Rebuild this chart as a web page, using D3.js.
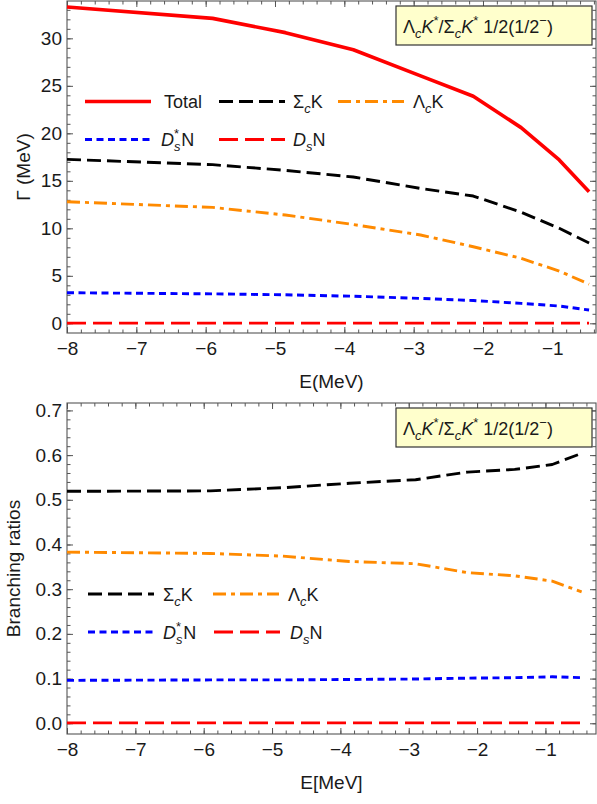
<!DOCTYPE html>
<html><head><meta charset="utf-8">
<script src="https://cdn.jsdelivr.net/npm/d3@7"></script>
<style>
body{margin:0;background:#fff}
text{font-family:"Liberation Sans",Arial,sans-serif;fill:#1a1a1a}
</style>
</head><body>
<svg id="chart" width="597" height="804"></svg>
<script>
// ---------- data ----------
const energies   = [-8.0, -5.9, -4.85, -3.87, -2.9, -2.14, -1.45, -0.9, -0.47];
// widths (MeV)
const widthTotal  = [33.3, 32.1, 30.6, 28.8, 26.05, 23.9, 20.6, 17.2, 13.85];
const widthSigmaK = [17.26, 16.7, 16.1, 15.4, 14.2, 13.4, 11.7, 10.0, 8.45];
const widthLambdaK= [12.8, 12.2, 11.4, 10.4, 9.3, 8.06, 6.84, 5.5, 4.12];
const widthDstarN = [3.22, 3.1, 3.0, 2.85, 2.62, 2.4, 2.1, 1.82, 1.4];
const widthDsN    = [0.02, 0.02, 0.02, 0.02, 0.02, 0.02, 0.02, 0.02, 0.02];
// branching ratios
const brSigmaK  = [0.519, 0.520, 0.527, 0.537, 0.545, 0.562, 0.568, 0.579, 0.604];
const brLambdaK = [0.383, 0.380, 0.374, 0.362, 0.357, 0.337, 0.330, 0.318, 0.294];
const brDstarN  = [0.096, 0.097, 0.097, 0.098, 0.099, 0.101, 0.102, 0.104, 0.102];
const brDsN     = [0.001, 0.001, 0.001, 0.001, 0.001, 0.001, 0.001, 0.001, 0.001];

const xTicks     = [-8, -7, -6, -5, -4, -3, -2, -1];
const yTicksTop  = [0, 5, 10, 15, 20, 25, 30];
const yTicksBot  = [0.0, 0.1, 0.2, 0.3, 0.4, 0.5, 0.6, 0.7];

// ---------- styles ----------
const styles = {
  total:  {color:"#ff0000", w:3.6, dash:null},
  sigma:  {color:"#000000", w:2.9, dash:"14,6"},
  lambda: {color:"#ff8a00", w:2.9, dash:"13,5,4,5"},
  dstar:  {color:"#0000ff", w:2.9, dash:"7,4.5"},
  ds:     {color:"#ff0000", w:2.9, dash:"19,7"}
};

const svg = d3.select("#chart");
const FS = 18, TFS = 19;

function richText(g, x, y, parts, size) {
  const t = g.append("text").attr("x", x).attr("y", y).style("font-size", size + "px");
  let cur = 0;
  parts.forEach(p => {
    const want = p.s === "sub" ? 5 : p.s === "sup" ? -8 : 0;
    const sp = t.append("tspan").text(p.t).attr("dy", want - cur);
    if (p.dx) sp.attr("dx", p.dx);
    if (p.i) sp.style("font-style", "italic");
    if (p.s) sp.style("font-size", (size * 0.72) + "px");
    cur = want;
  });
  return t;
}

const labelParts = {
  total:  [{t:"Total"}],
  sigma:  [{t:"Σ"},{t:"c",i:1,s:"sub"},{t:"K"}],
  lambda: [{t:"Λ"},{t:"c",i:1,s:"sub"},{t:"K"}],
  dstar:  [{t:"D",i:1},{t:"s",i:1,s:"sub"},{t:"*",s:"sup",dx:-6.4},{t:"N",dx:2.0}],
  ds:     [{t:"D",i:1},{t:"s",i:1,s:"sub"},{t:"N"}]
};
const tagParts = [
  {t:"Λ"},{t:"c",i:1,s:"sub"},{t:"K",i:1},{t:"*",s:"sup"},{t:"/"},
  {t:"Σ"},{t:"c",i:1,s:"sub"},{t:"K",i:1},{t:"*",s:"sup"},{t:" 1/2(1/2"},{t:"−",s:"sup"},{t:")"}
];

function panel(cfg) {
  const g = svg.append("g");
  const x = d3.scaleLinear().domain(cfg.xDomain).range([cfg.x0, cfg.x1]);
  const y = d3.scaleLinear().domain(cfg.yDomain).range([cfg.y1, cfg.y0]);

  const xMinor = d3.range(-8, 0.001, 0.2).filter(v => v >= cfg.xDomain[0] - 1e-9 && v <= cfg.xDomain[1]);
  const yMinor = d3.range(cfg.yMinorStart, cfg.yDomain[1], cfg.yMinorStep).filter(v => v >= cfg.yDomain[0] && v <= cfg.yDomain[1]);

  const maj = 6, mn = 3.5;
  g.append("g").attr("transform", `translate(0,${cfg.y1})`)
    .call(d3.axisBottom(x).tickValues(xMinor).tickSize(-mn).tickFormat(""));
  g.append("g").attr("transform", `translate(0,${cfg.y1})`)
    .call(d3.axisBottom(x).tickValues(xTicks).tickSize(-maj).tickPadding(9).tickFormat(d3.format("d")))
    .selectAll("text").style("font-size", TFS + "px");
  g.append("g").attr("transform", `translate(0,${cfg.y0})`)
    .call(d3.axisTop(x).tickValues(xMinor).tickSize(-mn).tickFormat(""));
  g.append("g").attr("transform", `translate(0,${cfg.y0})`)
    .call(d3.axisTop(x).tickValues(xTicks).tickSize(-maj).tickFormat(""));
  g.append("g").attr("transform", `translate(${cfg.x0},0)`)
    .call(d3.axisLeft(y).tickValues(yMinor).tickSize(-mn).tickFormat(""));
  g.append("g").attr("transform", `translate(${cfg.x0},0)`)
    .call(d3.axisLeft(y).tickValues(cfg.yTicks).tickSize(-maj).tickPadding(5).tickFormat(cfg.yFormat))
    .selectAll("text").style("font-size", TFS + "px");
  g.append("g").attr("transform", `translate(${cfg.x1},0)`)
    .call(d3.axisRight(y).tickValues(yMinor).tickSize(-mn).tickFormat(""));
  g.append("g").attr("transform", `translate(${cfg.x1},0)`)
    .call(d3.axisRight(y).tickValues(cfg.yTicks).tickSize(-maj).tickFormat(""));

  g.selectAll(".domain").remove();
  g.selectAll(".tick line").attr("stroke", "#555").attr("stroke-width", 1);
  g.selectAll(".tick text").style("fill", "#1a1a1a").style("font-family", '"Liberation Sans",Arial,sans-serif');

  g.append("rect").attr("x", cfg.x0).attr("y", cfg.y0)
    .attr("width", cfg.x1 - cfg.x0).attr("height", cfg.y1 - cfg.y0)
    .attr("fill", "none").attr("stroke", "#555").attr("stroke-width", 1.1);

  const line = d3.line().x((d, i) => x(energies[i])).y(d => y(d));
  cfg.series.forEach(s => {
    const st = styles[s.key];
    g.append("path").datum(s.values).attr("d", line)
      .attr("fill", "none").attr("stroke", st.color).attr("stroke-width", st.w)
      .attr("stroke-dasharray", st.dash).attr("stroke-linejoin", "round");
  });

  cfg.legend.forEach(it => {
    const st = styles[it.key];
    g.append("line").attr("x1", it.lx).attr("x2", it.lx + 66).attr("y1", it.y).attr("y2", it.y)
      .attr("stroke", st.color).attr("stroke-width", st.w).attr("stroke-dasharray", st.dash);
    richText(g, it.tx, it.y + 6.5, labelParts[it.key], FS);
  });

  g.append("rect").attr("x", 396).attr("y", cfg.y0 + 5).attr("width", 196).attr("height", 39)
    .attr("fill", "#ffffcc").attr("stroke", "#333").attr("stroke-width", 1.2);
  richText(g, 403, cfg.y0 + 32, tagParts, FS);

  g.append("text").attr("x", (cfg.x0 + cfg.x1) / 2).attr("y", cfg.xLabelY)
    .attr("text-anchor", "middle").style("font-size", TFS + "px").text(cfg.xLabel);
  g.append("text").attr("transform", `translate(${cfg.yLabelX},${(cfg.y0 + cfg.y1) / 2}) rotate(-90)`)
    .attr("text-anchor", "middle").style("font-size", TFS + "px").text(cfg.yLabel);
}

panel({
  x0: 67, x1: 596, y0: 1, y1: 333,
  xDomain: [-8, -0.37], yDomain: [-1.02, 33.93],
  yTicks: yTicksTop, yFormat: d3.format("d"), yMinorStart: 0, yMinorStep: 1,
  series: [
    {key:"total", values: widthTotal},
    {key:"sigma", values: widthSigmaK},
    {key:"lambda", values: widthLambdaK},
    {key:"dstar", values: widthDstarN},
    {key:"ds", values: widthDsN}
  ],
  legend: [
    {key:"total", lx:85, tx:164, y:101.5},
    {key:"sigma", lx:219, tx:293, y:101.5},
    {key:"lambda", lx:338, tx:413, y:101.5},
    {key:"dstar", lx:85, tx:161, y:139.5},
    {key:"ds", lx:219, tx:293, y:139.5}
  ],
  xLabel: "E(MeV)", xLabelY: 388,
  yLabel: "Γ (MeV)", yLabelX: 30
});

panel({
  x0: 67, x1: 596, y0: 403, y1: 734,
  xDomain: [-8, -0.26], yDomain: [-0.024, 0.7166],
  yTicks: yTicksBot, yFormat: d3.format(".1f"), yMinorStart: 0, yMinorStep: 0.02,
  series: [
    {key:"sigma", values: brSigmaK},
    {key:"lambda", values: brLambdaK},
    {key:"dstar", values: brDstarN},
    {key:"ds", values: brDsN}
  ],
  legend: [
    {key:"sigma", lx:88, tx:163, y:594},
    {key:"lambda", lx:213, tx:288, y:594},
    {key:"dstar", lx:88, tx:163, y:632},
    {key:"ds", lx:214, tx:290, y:632}
  ],
  xLabel: "E[MeV]", xLabelY: 789,
  yLabel: "Branching ratios", yLabelX: 20
});
</script>
</body></html>
